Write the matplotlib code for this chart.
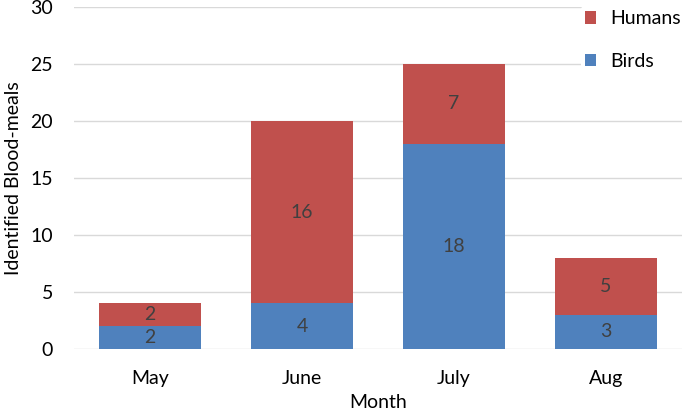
import matplotlib.pyplot as plt
import numpy as np

months = ["May", "June", "July", "Aug"]
birds = [2, 4, 18, 3]
humans = [2, 16, 7, 5]

plt.rcParams['font.family'] = ['Lato', 'DejaVu Sans']

fig = plt.figure(figsize=(6.85, 4.13), dpi=100)
ax = fig.add_axes([0.108, 0.155, 0.8876, 0.828])

x = np.arange(len(months))
w = 0.665
b1 = ax.bar(x, birds, w, color='#4F81BD', label='Birds', zorder=3)
b2 = ax.bar(x, humans, w, bottom=birds, color='#C0504D', label='Humans', zorder=3)

fs = 14
for i in range(len(months)):
    ax.text(x[i], birds[i] / 2, str(birds[i]), ha='center', va='center',
            fontsize=fs, color='#404040', zorder=4)
    ax.text(x[i], birds[i] + humans[i] / 2, str(humans[i]), ha='center', va='center',
            fontsize=fs, color='#404040', zorder=4)

ax.set_xlim(-0.5, 3.5)
ax.set_ylim(0, 30)
ax.set_yticks(range(0, 31, 5))
ax.set_xticks(x)
ax.set_xticklabels(months)
ax.grid(axis='y', color='#D9D9D9', linewidth=1, zorder=0)
for s in ax.spines.values():
    s.set_visible(False)
ax.tick_params(length=0, labelsize=fs, labelcolor='black')
ax.tick_params(axis='x', pad=15)
ax.tick_params(axis='y', pad=15)

ax.set_xlabel('Month', fontsize=fs, labelpad=5)
ax.set_ylabel('Identified Blood-meals', fontsize=fs, labelpad=6)

leg = ax.legend([b2, b1], ['Humans', 'Birds'], loc='upper right',
                bbox_to_anchor=(1.02, 1.03), frameon=True, fontsize=fs,
                labelspacing=1.3, handlelength=0.6, handleheight=0.6,
                handletextpad=0.7, borderpad=0.2)
leg.get_frame().set_edgecolor('none')
leg.get_frame().set_facecolor('white')
leg.get_frame().set_alpha(1)
leg.set_zorder(5)

fig.savefig('out.png', dpi=100)
